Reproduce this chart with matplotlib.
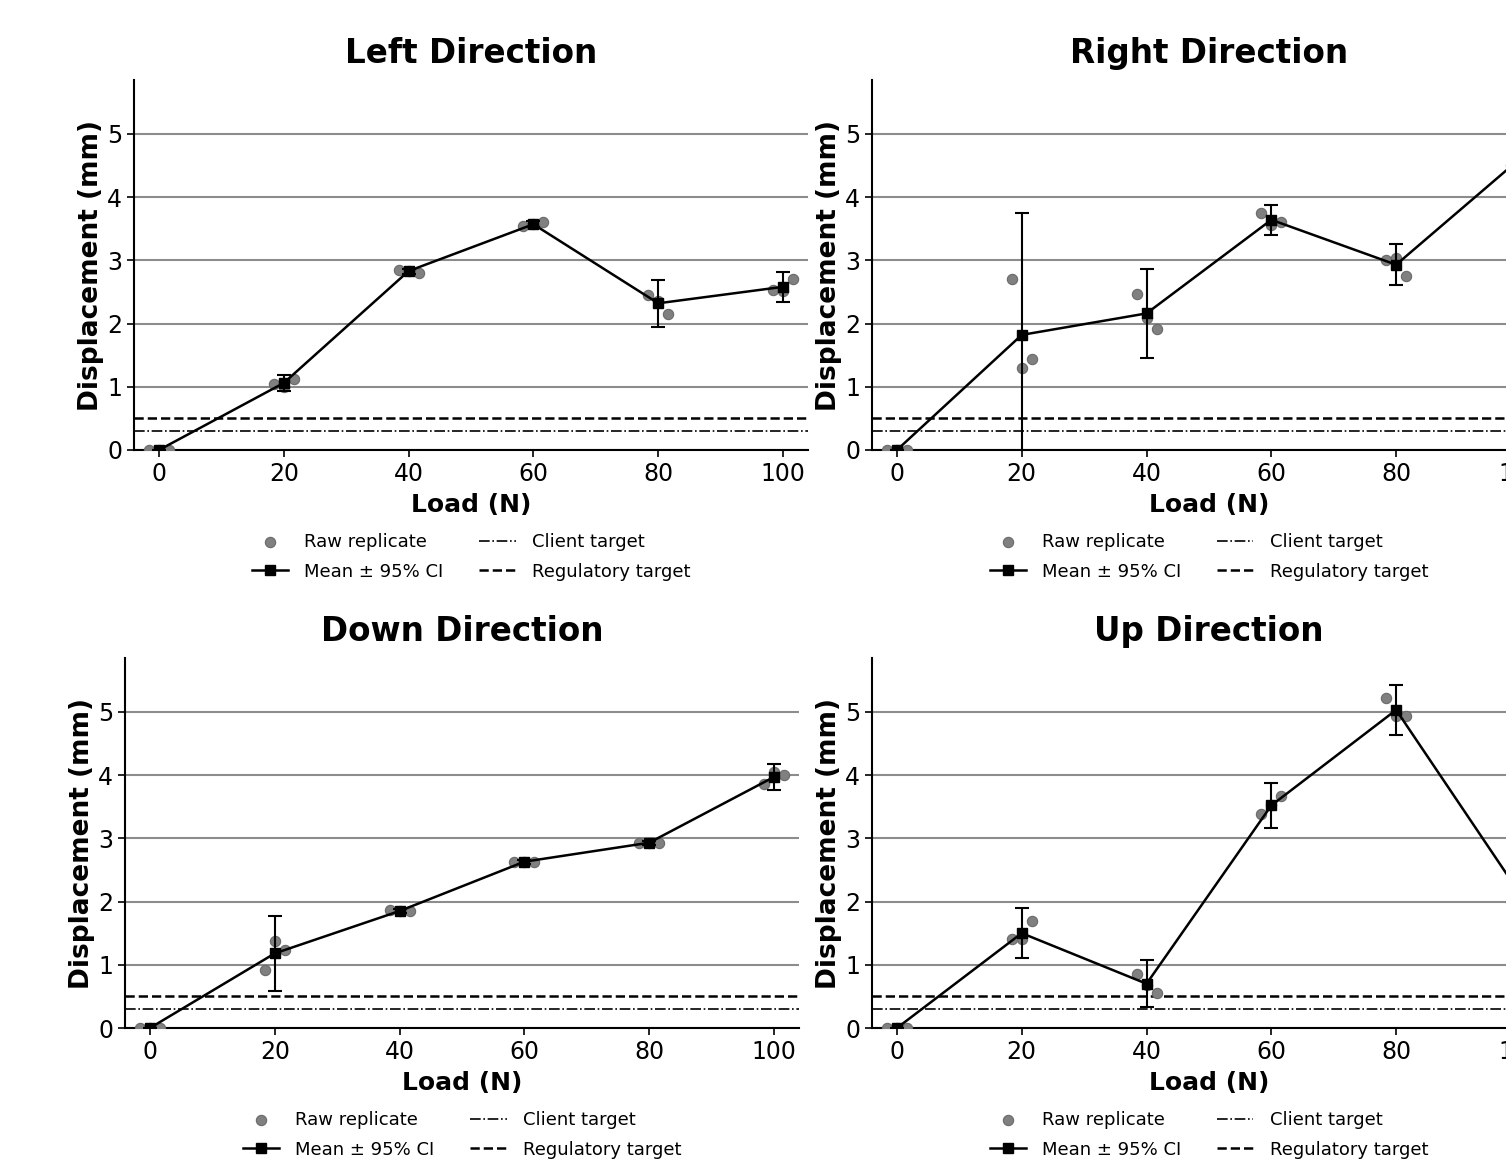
import numpy as np
import matplotlib
matplotlib.use("Agg")
import matplotlib.pyplot as plt

plt.rcParams['font.family'] = ['DejaVu Sans']

# ---------------- data ----------------
loads = [0, 20, 40, 60, 80, 100]
jitter = [-1.6, 0.0, 1.6]          # horizontal offsets of the three replicates

left_raw = [[0, 0, 0], [1.05, 1.00, 1.13], [2.85, 2.83, 2.80],
            [3.55, 3.57, 3.60], [2.45, 2.36, 2.15], [2.53, 2.52, 2.70]]
left_mean = [0, 1.06, 2.83, 3.57, 2.32, 2.58]
left_ci = [0, 0.12, 0.04, 0.05, 0.37, 0.24]

right_raw = [[0, 0, 0], [2.71, 1.30, 1.44], [2.47, 2.09, 1.91],
             [3.75, 3.56, 3.61], [3.00, 3.04, 2.75], [4.50, 4.65, 4.70]]
right_mean = [0, 1.82, 2.16, 3.64, 2.93, 4.62]
right_ci = [0, 1.93, 0.70, 0.24, 0.32, 0.25]

down_raw = [[0, 0, 0], [0.92, 1.38, 1.24], [1.86, 1.85, 1.85],
            [2.62, 2.63, 2.62], [2.92, 2.93, 2.92], [3.86, 4.05, 4.00]]
down_mean = [0, 1.18, 1.85, 2.63, 2.93, 3.97]
down_ci = [0, 0.59, 0.03, 0.03, 0.03, 0.21]

up_raw = [[0, 0, 0], [1.41, 1.40, 1.70], [0.86, 0.68, 0.56],
          [3.38, 3.52, 3.67], [5.22, 4.93, 4.93], [2.00, 2.10, 2.20]]
up_mean = [0, 1.50, 0.70, 3.52, 5.03, 2.10]
up_ci = [0, 0.40, 0.37, 0.35, 0.40, 0.30]

client_target = 0.3
regulatory_target = 0.5

panels = [
    ("Left Direction", left_raw, left_mean, left_ci, [0.0890, 0.6144, 0.4475, 0.3170]),
    ("Right Direction", right_raw, right_mean, right_ci, [0.5790, 0.6144, 0.4475, 0.3170]),
    ("Down Direction", down_raw, down_mean, down_ci, [0.0830, 0.1191, 0.4475, 0.3170]),
    ("Up Direction", up_raw, up_mean, up_ci, [0.5790, 0.1191, 0.4475, 0.3170]),
]

fig = plt.figure(figsize=(15.06, 11.67), dpi=100)

for title, raw, mean, ci, pos in panels:
    ax = fig.add_axes(pos)
    raw = np.array(raw)
    for j, off in enumerate(jitter):
        ax.scatter(np.array(loads) + off, raw[:, j], s=55, color='#808080',
                   edgecolor='#6a6a6a', linewidth=0.8, zorder=3,
                   label='Raw replicate' if j == 0 else None)
    ax.errorbar(loads, mean, yerr=ci, fmt='none', ecolor='black',
                elinewidth=1.5, capsize=5, capthick=1.5, zorder=4)
    ax.plot(loads, mean, '-s', color='black', lw=1.8, ms=7, zorder=5,
            label='Mean ± 95% CI')
    ax.axhline(client_target, color='black', ls='-.', lw=1.2,
               label='Client target', zorder=2)
    ax.axhline(regulatory_target, color='black', ls='--', lw=1.8,
               label='Regulatory target', zorder=2)

    ax.set_xlim(-4, 104)
    ax.set_ylim(0, 5.85)
    ax.set_xticks(loads)
    ax.set_yticks([0, 1, 2, 3, 4, 5])
    ax.yaxis.grid(True, color='#8c8c8c', lw=1.5)
    ax.set_axisbelow(True)
    ax.spines['top'].set_visible(False)
    ax.spines['right'].set_visible(False)
    ax.spines['left'].set_linewidth(1.5)
    ax.spines['bottom'].set_linewidth(1.5)
    ax.tick_params(labelsize=17, width=1.2, length=5)

    ax.set_title(title, fontsize=23.5, fontweight='bold', pad=12)
    ax.set_xlabel('Load (N)', fontsize=18, fontweight='bold', labelpad=5)
    ax.set_ylabel('Displacement (mm)', fontsize=19, fontweight='bold', labelpad=2)

    handles, labels = ax.get_legend_handles_labels()
    order = [labels.index(l) for l in ['Raw replicate', 'Mean ± 95% CI',
                                         'Client target', 'Regulatory target']]
    ax.legend([handles[i] for i in order], [labels[i] for i in order],
              ncol=2, loc='upper center', bbox_to_anchor=(0.5, -0.18),
              frameon=False, fontsize=13, scatterpoints=1, labelspacing=0.65,
              handlelength=2.0, handletextpad=0.9, columnspacing=2.0)

fig.savefig('out.png', dpi=100)
